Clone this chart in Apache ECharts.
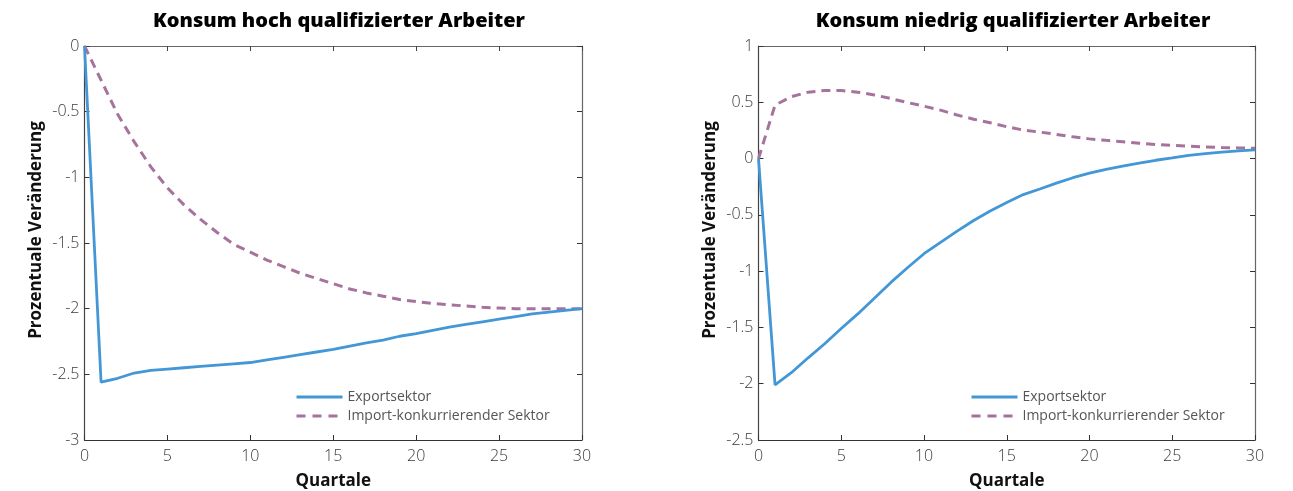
<!DOCTYPE html>
<html>
<head>
<meta charset="utf-8">
<script src="https://cdn.jsdelivr.net/npm/echarts@6/dist/echarts.min.js"></script>
<style>
html,body{margin:0;padding:0;background:#fff;}
#chart{width:1293px;height:491px;}
</style>
</head>
<body>
<div id="chart"></div>
<script>
var quarters = [0,1,2,3,4,5,6,7,8,9,10,11,12,13,14,15,16,17,18,19,20,21,22,23,24,25,26,27,28,29,30];
var titles = ['Konsum hoch qualifizierter Arbeiter', 'Konsum niedrig qualifizierter Arbeiter'];
var seriesNames = ['Exportsektor', 'Import-konkurrierender Sektor'];
var yLabelName = 'Prozentuale Veränderung';
var xLabelName = 'Quartale';

var exportHigh = [0, -2.56, -2.53, -2.49, -2.47, -2.46, -2.45, -2.44, -2.43, -2.42, -2.41, -2.39, -2.37, -2.35, -2.33, -2.31, -2.285, -2.26, -2.24, -2.21, -2.19, -2.165, -2.14, -2.12, -2.10, -2.08, -2.06, -2.04, -2.026, -2.013, -2.0];
var importHigh = [0, -0.26, -0.52, -0.73, -0.92, -1.08, -1.21, -1.32, -1.42, -1.51, -1.57, -1.63, -1.68, -1.73, -1.77, -1.81, -1.85, -1.88, -1.905, -1.93, -1.946, -1.96, -1.97, -1.98, -1.99, -1.995, -2.0, -2.0, -2.0, -2.0, -2.0];
var exportLow = [0, -2.01, -1.90, -1.77, -1.645, -1.51, -1.38, -1.24, -1.10, -0.97, -0.845, -0.745, -0.645, -0.55, -0.465, -0.39, -0.32, -0.27, -0.218, -0.17, -0.13, -0.097, -0.067, -0.04, -0.015, 0.006, 0.029, 0.044, 0.058, 0.069, 0.078];
var importLow = [0, 0.475, 0.55, 0.59, 0.605, 0.605, 0.59, 0.565, 0.533, 0.498, 0.465, 0.43, 0.387, 0.35, 0.318, 0.283, 0.253, 0.235, 0.215, 0.193, 0.175, 0.162, 0.15, 0.137, 0.125, 0.117, 0.11, 0.104, 0.099, 0.095, 0.092];

var yRangeHigh = {min: -3, max: 0, interval: 0.5};
var yRangeLow = {min: -2.5, max: 1, interval: 0.5};

function pairs(xs, ys){ return xs.map(function(x,i){ return [x, ys[i]]; }); }

var blue = '#4397d6';
var purple = '#a5739c';
var font = '"Open Sans", Lato, sans-serif';

var grids = [
  {left: 84.5, top: 46, width: 497.5, height: 394, outerBoundsMode: 'none', containLabel: false},
  {left: 758.5, top: 46, width: 496.5, height: 394, outerBoundsMode: 'none', containLabel: false}
];

var xAxes = [], yAxes = [], series = [];
[yRangeHigh, yRangeLow].forEach(function(r, g){
  xAxes.push({
    gridIndex: g, type: 'value', min: 0, max: 30, interval: 5, position: 'bottom',
    name: xLabelName, nameLocation: 'middle', nameGap: 33,
    nameTextStyle: {fontFamily: font, fontWeight: 'bold', fontSize: 17, color: '#111'},
    axisLine: {show: true, onZero: false, lineStyle: {color: '#333', width: 1.2}},
    axisTick: {show: true, inside: true, length: 5, lineStyle: {color: '#333'}},
    axisLabel: {fontFamily: font, fontWeight: 300, fontSize: 16, color: '#3a3a3a', margin: 8},
    splitLine: {show: false}
  });
  xAxes.push({
    gridIndex: g, type: 'value', min: 0, max: 30, interval: 5, position: 'top',
    axisLine: {show: true, onZero: false, lineStyle: {color: '#666', width: 1.2}},
    axisTick: {show: true, inside: true, length: 5, lineStyle: {color: '#444'}},
    axisLabel: {show: false}, splitLine: {show: false}
  });
  yAxes.push({
    gridIndex: g, type: 'value', min: r.min, max: r.max, interval: r.interval, position: 'left',
    name: yLabelName, nameLocation: 'middle', nameGap: 40, nameRotate: 90,
    nameTextStyle: {fontFamily: font, fontWeight: 'bold', fontSize: 17, color: '#111', padding: [0, 0, 0, 26]},
    axisLine: {show: true, onZero: false, lineStyle: {color: '#444', width: 1.2}},
    axisTick: {show: true, inside: true, length: 5, lineStyle: {color: '#333'}},
    axisLabel: {fontFamily: font, fontWeight: 300, fontSize: 16, color: '#3a3a3a', margin: 5},
    splitLine: {show: false}
  });
  yAxes.push({
    gridIndex: g, type: 'value', min: r.min, max: r.max, interval: r.interval, position: 'right',
    axisLine: {show: true, onZero: false, lineStyle: {color: '#666', width: 1.2}},
    axisTick: {show: true, inside: true, length: 5, lineStyle: {color: '#333'}},
    axisLabel: {show: false}, splitLine: {show: false}
  });
});

var dataSets = [[exportHigh, importHigh], [exportLow, importLow]];
dataSets.forEach(function(ds, g){
  series.push({
    name: seriesNames[0], type: 'line', xAxisIndex: g*2, yAxisIndex: g*2,
    data: pairs(quarters, ds[0]), showSymbol: false, symbol: 'none', smooth: false,
    lineStyle: {color: blue, width: 2.8}, itemStyle: {color: blue}, z: 3
  });
  series.push({
    name: seriesNames[1], type: 'line', xAxisIndex: g*2, yAxisIndex: g*2,
    data: pairs(quarters, ds[1]), showSymbol: false, symbol: 'none', smooth: false,
    lineStyle: {color: purple, width: 3, type: [9, 6]}, itemStyle: {color: purple}, z: 2
  });
});

function legendAt(left){
  return {
    data: [
      {name: seriesNames[0], itemStyle: {color: 'rgba(0,0,0,0)', borderWidth: 0, opacity: 0}, lineStyle: {color: blue, width: 3, type: 'solid'}},
      {name: seriesNames[1], itemStyle: {color: 'rgba(0,0,0,0)', borderWidth: 0, opacity: 0}, lineStyle: {color: purple, width: 3, type: [9, 7]}}
    ],
    orient: 'vertical', left: left, top: 385, itemWidth: 46, itemHeight: 14, itemGap: 5,
    textStyle: {fontFamily: font, fontWeight: 'normal', fontSize: 14, color: '#555'}
  };
}

var option = {
  backgroundColor: '#fff',
  animation: false,
  title: [
    {text: titles[0], left: 334, top: 6, textAlign: 'center',
     textStyle: {fontFamily: font, fontWeight: 800, fontSize: 20, color: '#000'}},
    {text: titles[1], left: 1008, top: 6, textAlign: 'center',
     textStyle: {fontFamily: font, fontWeight: 800, fontSize: 20, color: '#000'}}
  ],
  legend: [legendAt(290), legendAt(965)],
  grid: grids,
  xAxis: xAxes,
  yAxis: yAxes,
  series: series
};

var chart = echarts.init(document.getElementById('chart'), null, {renderer: 'canvas'});
chart.setOption(option);
</script>
</body>
</html>
